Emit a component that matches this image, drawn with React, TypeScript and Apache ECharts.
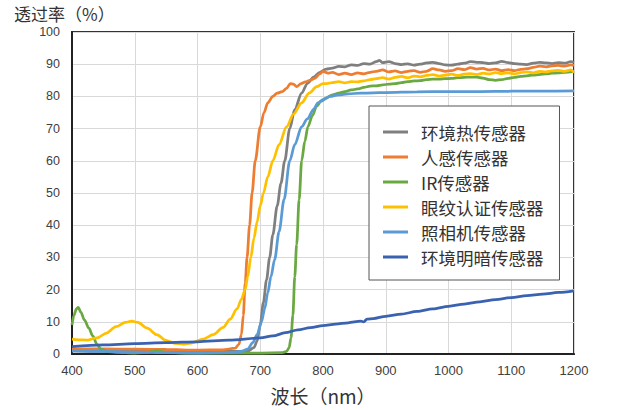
import React, { useEffect, useRef } from "react";
import * as echarts from "echarts";

const seriesNames = ["环境热传感器", "人感传感器", "IR传感器", "眼纹认证传感器", "照相机传感器", "环境明暗传感器"];
const seriesColors = ["#7f7f7f", "#ed7d31", "#6aa842", "#ffc000", "#5b9bd5", "#3a62b0"];

const yTicks = [0, 10, 20, 30, 40, 50, 60, 70, 80, 90, 100];
const xTicks = [400, 500, 600, 700, 800, 900, 1000, 1100, 1200];

const grayData = [
  [400, 1.0], [450, 0.8], [500, 1.0], [550, 0.7], [600, 0.8], [650, 0.8], [680, 0.9], [690, 2], [695, 4], [700, 9],
  [705, 16], [710, 23], [715, 30], [720, 37], [727, 46], [733, 53], [739, 60], [747, 70], [755, 76], [766, 81],
  [775, 84], [785, 86], [795, 87.5], [805, 88.5], [815, 88.8], [825, 89.3], [835, 89.2], [845, 89.8], [855, 89.6],
  [865, 90.2], [875, 90.0], [885, 90.8], [890, 91.2], [895, 90.5], [905, 90.8], [915, 90.2], [925, 89.9], [935, 90.1],
  [945, 89.7], [955, 90.0], [965, 90.4], [975, 90.6], [985, 90.2], [995, 89.8], [1005, 89.7], [1015, 90.0], [1025, 90.3],
  [1035, 90.8], [1045, 90.6], [1055, 90.5], [1065, 90.2], [1075, 90.4], [1085, 90.9], [1095, 90.5], [1105, 90.2],
  [1115, 90.0], [1125, 89.9], [1135, 90.3], [1145, 90.6], [1155, 90.4], [1165, 90.2], [1175, 90.5], [1185, 90.3],
  [1195, 90.8], [1200, 90.5],
];

const orangeData = [
  [400, 1.5], [450, 1.6], [500, 1.5], [550, 1.4], [600, 1.2], [640, 1.3], [660, 1.8], [666, 3], [670, 6], [673, 12],
  [676, 22], [679, 30], [683, 40], [687, 50], [692, 60], [700, 70.5], [706, 75], [712, 78], [720, 80], [727, 81],
  [735, 81.5], [742, 82.5], [748, 84], [753, 83.8], [758, 83], [765, 84], [772, 84.5], [779, 85], [786, 85.5], [795, 87],
  [800, 87.8], [808, 87.2], [815, 87.5], [825, 86.8], [835, 87.2], [845, 86.8], [855, 87.3], [865, 87.0], [875, 87.5],
  [885, 87.8], [895, 88.2], [905, 87.6], [915, 87.9], [925, 87.4], [935, 87.8], [945, 88.0], [955, 87.5], [965, 87.8],
  [975, 88.6], [985, 88.2], [995, 87.8], [1005, 88.0], [1015, 88.6], [1025, 88.3], [1035, 88.9], [1045, 88.5],
  [1055, 88.7], [1065, 88.2], [1075, 88.5], [1085, 88.0], [1095, 88.3], [1105, 88.0], [1115, 88.4], [1125, 88.6],
  [1135, 89.0], [1145, 89.4], [1155, 89.2], [1165, 89.5], [1175, 89.6], [1185, 89.4], [1195, 89.8], [1200, 89.6],
];

const greenData = [
  [400, 9], [403, 12], [407, 14], [410, 14.5], [414, 13], [420, 10.5], [427, 8], [433, 5.6], [440, 3], [446, 1.5],
  [455, 0.8], [470, 0.5], [500, 0.3], [520, 0.5], [535, 1.0], [550, 0.5], [580, 0.3], [650, 0.3], [700, 0.3],
  [735, 0.4], [742, 0.8], [746, 2], [749, 5], [752, 12], [755, 24], [758, 34], [762, 48], [766, 60], [771, 66],
  [776, 70.6], [783, 74], [790, 77], [797, 78.5], [805, 79.5], [815, 80.5], [825, 81], [835, 81.5], [845, 82],
  [855, 82.3], [865, 82.8], [875, 83.2], [885, 83.3], [895, 83.6], [905, 83.8], [915, 84.0], [925, 84.3], [935, 84.6],
  [945, 84.8], [955, 84.9], [965, 85.2], [975, 85.4], [985, 85.4], [995, 85.5], [1005, 85.6], [1015, 85.8],
  [1025, 85.9], [1035, 86.0], [1045, 86.0], [1055, 85.7], [1065, 85.2], [1075, 85.0], [1085, 85.2], [1095, 85.6],
  [1105, 85.9], [1115, 86.2], [1125, 86.4], [1135, 86.6], [1145, 86.8], [1155, 87.0], [1165, 87.2], [1175, 87.3],
  [1185, 87.5], [1195, 87.6], [1200, 87.8],
];

const yellowData = [
  [400, 4.6], [410, 4.4], [424, 4.3], [440, 5], [455, 6.5], [470, 8.5], [485, 9.8], [495, 10.2], [505, 9.8], [520, 8],
  [535, 6], [550, 4.2], [565, 3.3], [577, 3.1], [590, 3.4], [609, 4.6], [625, 6], [641, 8.3], [652, 10.8], [663, 14],
  [670, 17], [676, 20], [680, 24], [685, 30], [690, 36], [695, 41], [700, 46], [705, 50], [712, 55], [720, 60],
  [730, 65], [742, 70.6], [753, 74.5], [766, 78], [778, 81], [790, 83], [800, 84], [806, 84], [815, 84.3], [825, 84.6],
  [835, 84.2], [845, 84.6], [855, 84.5], [865, 84.8], [875, 85.2], [885, 85.5], [895, 85.8], [905, 85.4], [915, 85.9],
  [925, 86.2], [935, 85.8], [945, 86.3], [955, 86.1], [965, 86.5], [975, 86.8], [985, 86.3], [995, 86.6], [1005, 86.9],
  [1015, 86.5], [1025, 86.9], [1035, 87.1], [1045, 86.8], [1055, 87.2], [1065, 87.0], [1075, 87.4], [1085, 87.1],
  [1095, 87.3], [1105, 87.0], [1115, 87.4], [1125, 87.6], [1135, 87.3], [1145, 87.8], [1155, 87.6], [1165, 87.9],
  [1175, 88.1], [1185, 87.8], [1195, 88.2], [1200, 87.4],
];

const lightBlueData = [
  [400, 1.0], [450, 0.8], [500, 0.6], [550, 0.4], [600, 0.3], [650, 0.4], [670, 0.8], [680, 1.5], [688, 3.5], [695, 6],
  [702, 10], [707, 14], [712, 19], [717, 24], [723, 29.4], [730, 38], [738, 48], [747, 60], [755, 65], [766, 70.6],
  [775, 73], [785, 76], [792, 78], [800, 79], [811, 80], [825, 80.5], [840, 80.8], [860, 81], [880, 81.1], [900, 81.2],
  [950, 81.4], [1000, 81.5], [1050, 81.5], [1100, 81.6], [1150, 81.6], [1200, 81.7],
];

const darkBlueData = [
  [400, 2.3], [450, 2.8], [500, 3.2], [550, 3.5], [600, 3.8], [650, 4.3], [700, 5], [720, 5.6], [740, 6.6], [760, 7.5],
  [780, 8.2], [800, 8.8], [820, 9.3], [840, 9.7], [860, 10.2], [865, 10.0], [870, 10.8], [880, 11.0], [900, 11.7],
  [925, 12.4], [950, 13.2], [975, 14.0], [1000, 14.8], [1025, 15.5], [1050, 16.2], [1075, 16.9], [1100, 17.5],
  [1125, 18.1], [1150, 18.6], [1175, 19.1], [1200, 19.6],
];

const allData = [grayData, orangeData, greenData, yellowData, lightBlueData, darkBlueData];

const FONT = "'Noto Sans CJK SC', 'Noto Sans', sans-serif";
const NUM_FONT = "'Liberation Sans', 'Noto Sans', sans-serif";

export default function App() {
  const ref = useRef<HTMLDivElement>(null);
  useEffect(() => {
    if (!ref.current) return;
    const chart = echarts.init(ref.current, undefined, { renderer: "svg" });
    chart.setOption({
      animation: false,
      backgroundColor: "#ffffff",
      textStyle: { fontFamily: FONT },
      grid: { left: 72, right: 66, top: 32, bottom: 55, show: true, borderColor: "#333", borderWidth: 2 },
      title: {
        text: "透过率（%）",
        left: 14,
        top: 4,
        padding: 0,
        textStyle: { fontSize: 17, lineHeight: 19, fontWeight: "normal", color: "#333", fontFamily: FONT },
      },
      legend: {
        orient: "vertical",
        left: 369,
        top: 106,
        width: 194,
        padding: [16, 16, 13, 14],
        itemGap: 5,
        itemWidth: 25,
        itemHeight: 3,
        icon: "rect",
        backgroundColor: "#ffffff",
        borderColor: "#555",
        borderWidth: 1,
        textStyle: { fontSize: 17.5, color: "#333", lineHeight: 20, padding: [0, 0, 0, 8], fontFamily: FONT },
        data: seriesNames,
      },
      xAxis: {
        type: "value",
        min: 400,
        max: 1200,
        interval: 100,
        name: "波长（nm）",
        nameLocation: "middle",
        nameGap: 32,
        nameTextStyle: { fontSize: 19, color: "#333", fontFamily: FONT },
        axisLine: { show: true, lineStyle: { color: "#222", width: 2 } },
        axisTick: { show: false },
        axisLabel: { fontSize: 13, color: "#404040", margin: 10, fontFamily: NUM_FONT, formatter: (v: number) => (xTicks.includes(v) ? String(v) : "") },
        splitLine: { show: true, lineStyle: { color: "#d9d9d9", width: 1 } },
      },
      yAxis: {
        type: "value",
        min: 0,
        max: 100,
        interval: 10,
        axisLine: { show: true, lineStyle: { color: "#222", width: 2 } },
        axisTick: { show: false },
        axisLabel: { fontSize: 12.5, lineHeight: 13, color: "#404040", margin: 12, fontFamily: NUM_FONT, formatter: (v: number) => (yTicks.includes(v) ? String(v) : "") },
        splitLine: { show: true, lineStyle: { color: "#d9d9d9", width: 1 } },
      },
      series: seriesNames.map((name, i) => ({
        name,
        type: "line",
        data: allData[i],
        showSymbol: false,
        symbol: "none",
        smooth: 0.3,
        smoothMonotone: "x",
        color: seriesColors[i],
        lineStyle: { color: seriesColors[i], width: 2.75 },
      })),
    });
    return () => chart.dispose();
  }, []);
  return <div ref={ref} style={{ position: "absolute", left: 0, top: 0, width: 640, height: 410 }} />;
}
